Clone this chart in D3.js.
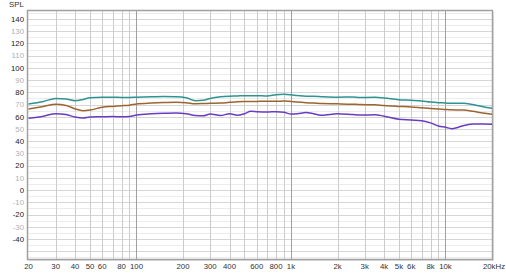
<!DOCTYPE html>
<html><head><meta charset="utf-8">
<script src="https://cdn.jsdelivr.net/npm/d3@7"></script>
<style>html,body{margin:0;padding:0;background:#fff;}svg{display:block;}</style>
</head><body>
<svg id="c" width="506" height="275"></svg>
<script>
const freqs = [20,25,30,35,40,45,50,60,70,80,90,100,125,150,180,210,240,270,300,350,400,450,500,550,600,700,800,900,1000,1100,1250,1400,1600,2000,2500,2800,3500,4000,5000,6000,7000,8000,9000,10000,11000,12000,13000,15000,17500,20000];
const tealSPL = [70.4,72.5,75,74.5,73.2,74.2,75.5,76,76,75.8,75.8,76,
  76.3,76.5,76.4,75.5,73.2,73.5,75,76.3,76.8,77,77.3,
  77.3,77.3,77,78,78.4,78,
  77.4,76.8,76.8,76.4,76,76.2,75.8,
  75.9,75.3,73.9,73.5,73,72,71.5,71.3,
  71,71,71,70,68.2,67];
const brownSPL = [66.4,68.5,70.2,69.3,66.5,65,65.5,67.8,68.5,69,69.5,70.4,
  71.2,71.6,71.8,71.5,70.7,70.8,71,71.2,71.8,72.3,72.5,
  72.5,72.6,72.8,72.7,72.9,72.5,
  72,71.5,71.2,70.8,70.6,70.3,70,
  69.8,69.2,68.5,68,67.3,66.7,66.4,66,
  65.7,65.6,65.5,64.5,63,62];
const purpleSPL = [58.7,60.5,62.5,61.8,59.8,59,59.8,60,60.2,60,60.2,61.5,
  62.5,62.9,63.1,62.5,61,60.8,62.2,61,62.5,61.2,62.5,
  64.5,64.2,63.9,64.2,63.7,62.2,
  62.5,63.4,62.5,61.2,62.5,61.8,61.4,
  61.7,60.5,58,57.4,56.8,55,52.5,51.4,
  50.3,51.3,52.7,54,54,53.8];
const yTicks = [-40,-30,-20,-10,0,10,20,30,40,50,60,70,80,90,100,110,120,130,140];
const xTickValues = [20,30,40,50,60,80,100,200,300,400,600,800,1000,2000,3000,4000,5000,6000,8000,10000,20000];
const xTickLabels = ["20","30","40","50","60","80","100","200","300","400","600","800","1k","2k","3k","4k","5k","6k","8k","10k","20kHz"];
const xGrid = [30,40,50,60,70,80,90,100,200,300,400,500,600,700,800,900,1000,2000,3000,4000,5000,6000,7000,8000,9000,10000];
const majorX = [100,1000,10000];

const svg = d3.select("#c");
const L = 27, R = 492, T = 10, B = 259;
const x = d3.scaleLog().domain([20,20000]).range([28.5,492]);
const y = d3.scaleLinear().domain([-40,140]).range([239,19]);
const font = "'Liberation Sans', Arial, sans-serif";

svg.append("rect").attr("x",L+2).attr("y",T+2).attr("width",R-L).attr("height",B-T).attr("fill","#e4e4e4");
svg.append("rect").attr("x",L).attr("y",T).attr("width",R-L).attr("height",B-T).attr("fill","#fff");

const g = svg.append("g");
const hVals = d3.range(-55,150,5);
g.selectAll("line.h").data(hVals).join("line")
  .attr("x1",L).attr("x2",R)
  .attr("y1",d=>Math.round(y(d))+0.5).attr("y2",d=>Math.round(y(d))+0.5)
  .attr("stroke", d => d%10===0 ? "#d6d6d6" : "#ececec").attr("stroke-width",1)
  .attr("display", d => (y(d) > T+1 && y(d) < B-1) ? null : "none");
g.selectAll("line.v").data(xGrid).join("line")
  .attr("x1",d=>Math.round(x(d))+0.5).attr("x2",d=>Math.round(x(d))+0.5)
  .attr("y1",T).attr("y2",B)
  .attr("stroke", d => majorX.includes(d) ? "#a0a0a0" : "#cccccc").attr("stroke-width",1);

svg.append("rect").attr("x",L+0.5).attr("y",T+0.5).attr("width",R-L).attr("height",B-T)
  .attr("fill","none").attr("stroke","#a0a0a0").attr("stroke-width",1.5);

const line = d3.line().x(d=>x(d[0])).y(d=>y(d[1])).curve(d3.curveMonotoneX);
const series = [[tealSPL,"#2f9393"],[brownSPL,"#9c6530"],[purpleSPL,"#6a3cc0"]];
series.forEach(([vals,col])=>{
  svg.append("path").datum(freqs.map((f,i)=>[f,vals[i]]))
    .attr("d",line).attr("fill","none").attr("stroke",col).attr("stroke-width",1.5);
});

svg.selectAll("text.yl").data(yTicks).join("text")
  .attr("x",24).attr("y",d=>y(d)+2.8).attr("text-anchor","end")
  .attr("font-family",font).attr("font-size","7.8px")
  .attr("fill", d => (d%20===0) ? "#222" : "#b0b0b0")
  .text(d=>d);
svg.selectAll("text.xl").data(xTickValues).join("text")
  .attr("x",(d,i)=> i===xTickValues.length-1 ? x(d)+2 : x(d)).attr("y",269)
  .attr("text-anchor","middle")
  .attr("font-family",font).attr("font-size","7.8px").attr("fill","#333")
  .text((d,i)=>xTickLabels[i]);
svg.append("text").attr("x",9).attr("y",7).attr("font-family",font).attr("font-size","7.8px").attr("fill","#333").text("SPL");
</script>
</body></html>
